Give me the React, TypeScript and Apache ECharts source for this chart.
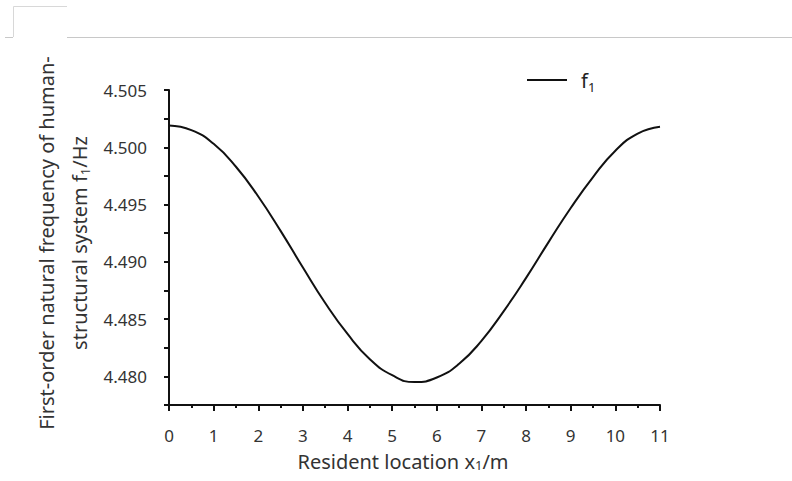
import React, { useEffect, useRef } from "react";
import * as echarts from "echarts";

const xValues = [0, 0.5, 1, 1.5, 2, 2.5, 3, 3.5, 4, 4.5, 5, 5.5, 6, 6.5, 7, 7.5, 8, 8.5, 9, 9.5, 10, 10.5, 11];
const f1Values = [
  4.5019, 4.5015, 4.5003, 4.4983, 4.4957, 4.4927, 4.4895, 4.4864, 4.4837, 4.4815, 4.4801, 4.4795,
  4.4799, 4.4811, 4.4831, 4.4857, 4.4886, 4.4917, 4.4947, 4.4974, 4.4997, 4.5012, 4.5018,
];
const seriesName = "f1";
const xTitle = "Resident location x{s|1}/m";
const yTitle = "First-order natural frequency of human-\nstructural system f{s|1}/Hz";

const FONT = "'Noto Sans', 'DejaVu Sans', sans-serif";

export default function App() {
  const ref = useRef<HTMLDivElement>(null);
  useEffect(() => {
    if (!ref.current) return;
    const chart = echarts.init(ref.current, null, { renderer: "svg" });
    const data = xValues.map((x, i) => [x, f1Values[i]]);
    chart.setOption({
      animation: false,
      backgroundColor: "#fff",
      grid: { left: 169, top: 90, width: 491, height: 315, containLabel: false },
      legend: {
        data: [{ name: seriesName, icon: "rect" }],
        left: 522,
        top: 62,
        itemWidth: 40,
        itemHeight: 2,
        itemGap: 10,
        formatter: () => "f{s|1}",
        textStyle: {
          fontFamily: FONT,
          fontSize: 20,
          color: "#222",
          lineHeight: 26,
          padding: [0, 0, 0, 9],
          rich: { s: { fontFamily: FONT, fontSize: 13, color: "#222", verticalAlign: "bottom", lineHeight: 26, padding: [10, 0, 0, 0] } },
        },
      },
      xAxis: {
        type: "value",
        min: 0,
        max: 11,
        interval: 1,
        axisLine: { show: true, lineStyle: { color: "#111", width: 2 } },
        axisTick: { show: true, inside: false, length: 6, lineStyle: { color: "#111", width: 2 } },
        minorTick: { show: true, splitNumber: 2, length: 3, lineStyle: { color: "#111", width: 2 } },
        splitLine: { show: false },
        axisLabel: { margin: 22, fontFamily: FONT, fontSize: 17, color: "#333" },
      },
      yAxis: {
        type: "value",
        min: 4.4775,
        max: 4.505,
        interval: 0.0025,
        axisLine: { show: true, lineStyle: { color: "#111", width: 2 } },
        axisTick: { show: true, inside: false, length: 5, lineStyle: { color: "#111", width: 2 } },
        splitLine: { show: false },
        axisLabel: {
          margin: 22,
          fontFamily: FONT,
          fontSize: 17,
          color: "#333",
          formatter: (v: number) => {
            const k = v / 0.005;
            return Math.abs(k - Math.round(k)) < 1e-6 ? v.toFixed(3) : "";
          },
        },
      },
      series: [
        {
          name: seriesName,
          type: "line",
          data,
          smooth: true,
          showSymbol: false,
          symbol: "none",
          lineStyle: { color: "#111", width: 2 },
          itemStyle: { color: "#111" },
        },
      ],
      graphic: [
        { type: "line", shape: { x1: 5, y1: 37.5, x2: 13, y2: 37.5 }, style: { stroke: "#c8c8c8", lineWidth: 1 } },
        { type: "line", shape: { x1: 67, y1: 37.5, x2: 792, y2: 37.5 }, style: { stroke: "#c8c8c8", lineWidth: 1 } },
        { type: "polyline", shape: { points: [[13.5, 37], [13.5, 6.5], [67, 6.5]] }, style: { stroke: "#d8d8d8", lineWidth: 1, fill: "none" } },
        {
          type: "text",
          x: 403,
          y: 461,
          style: {
            text: xTitle,
            fontFamily: FONT,
            fontSize: 20,
            fill: "#333",
            align: "center",
            verticalAlign: "middle",
            rich: { s: { fontFamily: FONT, fontSize: 13, fill: "#333", padding: [8, 0, 0, 0] } },
          },
        },
        {
          type: "text",
          x: 63,
          y: 243,
          rotation: Math.PI / 2,
          style: {
            text: yTitle,
            fontFamily: FONT,
            fontSize: 20,
            lineHeight: 33,
            fill: "#333",
            align: "center",
            verticalAlign: "middle",
            rich: { s: { fontFamily: FONT, fontSize: 13, lineHeight: 33, fill: "#333", padding: [10, 0, 0, 0] } },
          },
        },
      ],
    });
    return () => chart.dispose();
  }, []);
  return <div ref={ref} style={{ position: "fixed", left: 0, top: 0, width: 792, height: 481 }} />;
}
